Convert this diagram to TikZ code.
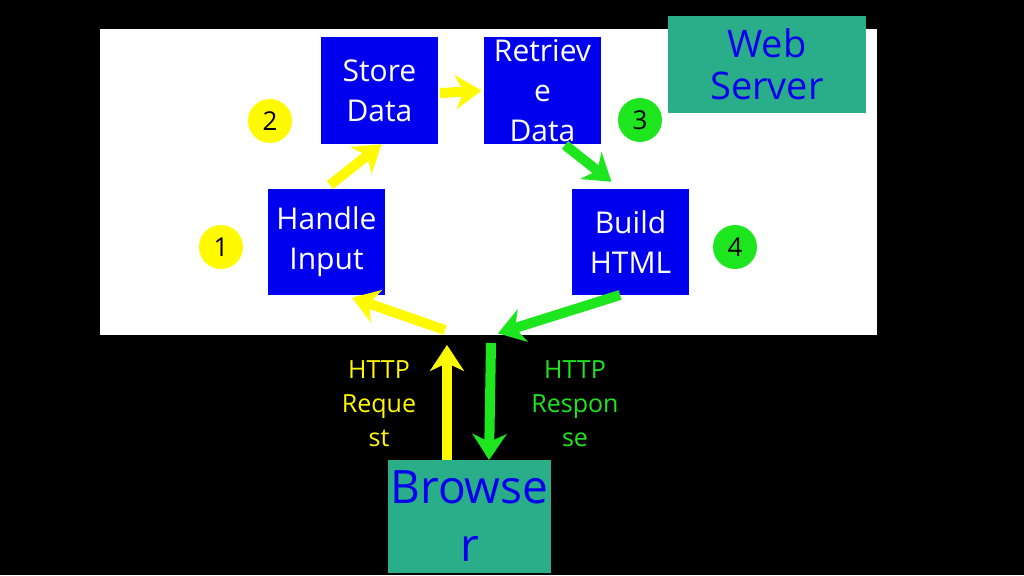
\documentclass[tikz,border=0pt]{standalone}
\usepackage{fontspec}
\setmainfont{Open Sans}
\usetikzlibrary{arrows.meta}
\definecolor{teal}{RGB}{42,174,138}
\definecolor{sblue}{RGB}{0,0,238}
\definecolor{syel}{RGB}{255,250,0}
\definecolor{sgreen}{RGB}{30,230,30}
\tikzset{every picture/.style={line width=0.75pt}}
\tikzset{
  stage/.style={fill=sblue, text=white, minimum width=117pt, minimum height=106pt, inner sep=0pt, align=center, font=\fontsize{30}{40}\selectfont},
  num/.style={circle, minimum size=44pt, inner sep=0pt, text=black, font=\fontsize{26}{30}\selectfont},
  httptext/.style={align=center, font=\fontsize{25}{34}\selectfont},
  flow/.style={line width=10pt, -{Stealth[length=26pt, width=34pt, inset=8pt]}, shorten >=2pt},
}
\begin{document}
\begin{tikzpicture}[x=1pt,y=-1pt]
\useasboundingbox (0,0) rectangle (1024,575);
\fill [black] (0,0) rectangle (1024,575);
\fill [white] (100,29) rectangle (877,335);

\node [fill=teal, text=sblue, minimum width=198pt, minimum height=97pt, align=center, font=\fontsize{38}{42}\selectfont] (server) at (767,64.5) {Web\\Server};

\node [stage] (store) at (379.5,90.5) {Store\\Data};
\node [stage] (retrieve) at (542.5,90.5) {Retriev\\e\\Data};
\node [stage] (handle) at (326.5,242) {Handle\\Input};
\node [stage] (build) at (630.5,242) {Build\\HTML};

\node [num, fill=syel] (n2) at (270,121) {2};
\node [num, fill=sgreen] (n3) at (640,120) {3};
\node [num, fill=syel] (n1) at (221,247) {1};
\node [num, fill=sgreen] (n4) at (735,247) {4};

\node [fill=teal, text=sblue, minimum width=163pt, minimum height=113pt, inner sep=0pt, align=center, font=\fontsize{46}{58}\selectfont] (browser) at (469.5,516.5) {Browse\\r};

\coordinate (reqin) at (445,330);
\coordinate (resout) at (496,334);
\coordinate (reqtop) at (447,343);
\coordinate (restop) at (491,343);

\draw [flow, syel] (reqin) -- (350,297);
\draw [flow, syel] (330,185) -- (383,143);
\draw [flow, syel] (440,93) -- (store.east -| retrieve.west);
\draw [flow, sgreen] (565,145) -- (613,183);
\draw [flow, sgreen] (620,295) -- (resout);
\draw [flow, syel] (browser.north -| reqtop) -- (reqtop);
\draw [flow, sgreen] (restop) -- (489,462);

\node [httptext, text=syel] (req) at (379,404) {HTTP\\Reque\\st};
\node [httptext, text=sgreen] (res) at (575,404) {HTTP\\Respon\\se};
\end{tikzpicture}
\end{document}
